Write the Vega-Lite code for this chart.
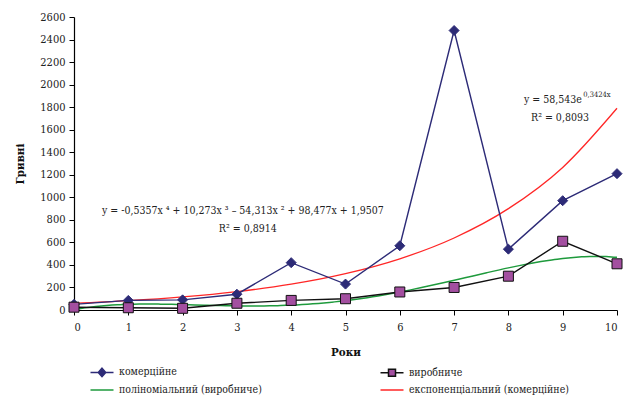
{
  "$schema": "https://vega.github.io/schema/vega-lite/v6.json",
  "width": 543,
  "height": 293,
  "autosize": "none",
  "padding": {"left": 74, "top": 17, "right": 9, "bottom": 86},
  "background": "white",
  "config": {
    "view": {"stroke": null},
    "font": "DejaVu Serif Condensed, DejaVu Serif",
    "axis": {"labelFont": "DejaVu Serif Condensed, DejaVu Serif", "titleFont": "DejaVu Serif Condensed, DejaVu Serif", "labelFontSize": 11, "titleFontSize": 11.5, "labelColor": "#222", "titleColor": "#111", "domainColor": "#000", "tickColor": "#000", "grid": false, "tickSize": 5, "domainWidth": 1.2, "labelOverlap": false}
  },
  "datasets": {
    "main": [
      {"x": 0, "value": 50, "series": "комерційне"},
      {"x": 1, "value": 85, "series": "комерційне"},
      {"x": 2, "value": 90, "series": "комерційне"},
      {"x": 3, "value": 140, "series": "комерційне"},
      {"x": 4, "value": 420, "series": "комерційне"},
      {"x": 5, "value": 230, "series": "комерційне"},
      {"x": 6, "value": 570, "series": "комерційне"},
      {"x": 7, "value": 2480, "series": "комерційне"},
      {"x": 8, "value": 540, "series": "комерційне"},
      {"x": 9, "value": 970, "series": "комерційне"},
      {"x": 10, "value": 1210, "series": "комерційне"},
      {"x": 0, "value": 25, "series": "виробниче"},
      {"x": 1, "value": 20, "series": "виробниче"},
      {"x": 2, "value": 15, "series": "виробниче"},
      {"x": 3, "value": 60, "series": "виробниче"},
      {"x": 4, "value": 85, "series": "виробниче"},
      {"x": 5, "value": 100, "series": "виробниче"},
      {"x": 6, "value": 160, "series": "виробниче"},
      {"x": 7, "value": 200, "series": "виробниче"},
      {"x": 8, "value": 300, "series": "виробниче"},
      {"x": 9, "value": 610, "series": "виробниче"},
      {"x": 10, "value": 410, "series": "виробниче"}
    ],
    "expTrend": [
      {"x": 0, "value": 58.5},
      {"x": 1, "value": 82.4},
      {"x": 2, "value": 115.9},
      {"x": 3, "value": 163},
      {"x": 4, "value": 229.4},
      {"x": 5, "value": 322.8},
      {"x": 6, "value": 454.2},
      {"x": 7, "value": 639.1},
      {"x": 8, "value": 899.2},
      {"x": 9, "value": 1265},
      {"x": 10, "value": 1790}
    ],
    "notes": [
      {"x": 3.11, "value": 878, "t": "y = -0,5357x ⁴ + 10,273x ³ – 54,313x ² + 98,477x + 1,9507"},
      {"x": 3.2, "value": 719, "t": "R² = 0,8914"},
      {"x": 8.82, "value": 1863, "t": "y = 58,543e"},
      {"x": 8.95, "value": 1704, "t": "R² = 0,8093"}
    ],
    "sups": [
      {"x": 9.63, "value": 1908, "t": "0,3424x"}
    ]
  },
  "encoding": {
    "x": {"field": "x", "type": "quantitative", "title": "Роки",
      "scale": {"domain": [0, 10], "nice": false},
      "axis": {"values": [0,1,2,3,4,5,6,7,8,9,10], "titleFontWeight": "bold", "titlePadding": 14, "labelPadding": 6}},
    "y": {"field": "value", "type": "quantitative", "title": "Гривні",
      "scale": {"domain": [0, 2600], "nice": false},
      "axis": {"values": [0,200,400,600,800,1000,1200,1400,1600,1800,2000,2200,2400,2600], "format": "d", "labelOverlap": false, "titleFontWeight": "bold", "titlePadding": 14, "labelPadding": 4}}
  },
  "layer": [
    {
      "data": {"name": "main"},
      "transform": [{"filter": "datum.series === 'виробниче'"}, {"regression": "value", "on": "x", "method": "poly", "order": 4, "extent": [0, 10]}],
      "mark": {"type": "line", "strokeWidth": 1.5, "interpolate": "monotone"},
      "encoding": {
        "stroke": {"datum": "поліноміальний (виробниче)"}
      }
    },
    {
      "data": {"name": "expTrend"},
      "mark": {"type": "line", "strokeWidth": 1.3, "interpolate": "monotone"},
      "encoding": {
        "stroke": {"datum": "експоненціальний (комерційне)"}
      }
    },
    {
      "data": {"name": "main"},
      "mark": {"type": "line", "strokeWidth": 1.4},
      "encoding": {
        "stroke": {"field": "series", "type": "nominal",
          "scale": {"domain": ["комерційне", "виробниче", "поліноміальний (виробниче)", "експоненціальний (комерційне)"], "range": ["#2D2B77", "#111111", "#1E9A3C", "#FF2626"]},
          "legend": {
            "title": null, "orient": "none", "direction": "horizontal", "legendX": 22, "legendY": 349, "columns": 2, "columnPadding": 115, "rowPadding": 4, "padding": 0,
            "labelFont": "DejaVu Serif Condensed, DejaVu Serif", "labelFontSize": 10.5, "labelColor": "#222", "labelOffset": 11,
            "symbolSize": 100, "symbolStrokeWidth": 1.5,
            "encode": {"symbols": {"update": {
              "shape": {"signal": "datum.value === 'комерційне' ? 'M-2.3,0H2.3M0,-0.85L0.75,0L0,0.85L-0.75,0Z' : datum.value === 'виробниче' ? 'M-2.3,0H-0.7M0.7,0H2.3M-0.7,-0.7H0.7V0.7H-0.7Z' : 'M-2.3,0H2.3'"},
              "fill": {"signal": "datum.value === 'комерційне' ? '#2D2B77' : datum.value === 'виробниче' ? '#A34FA0' : 'transparent'"},
              "fillOpacity": {"value": 1}
            }}}
          }}
      }
    },
    {
      "data": {"name": "main"},
      "mark": {"type": "point", "filled": true, "opacity": 1},
      "encoding": {
        "shape": {"field": "series", "type": "nominal", "scale": {"domain": ["комерційне", "виробниче"], "range": ["diamond", "square"]}, "legend": null},
        "fill": {"field": "series", "type": "nominal", "scale": {"domain": ["комерційне", "виробниче"], "range": ["#2D2B77", "#A34FA0"]}, "legend": null},
        "size": {"field": "series", "type": "nominal", "scale": {"domain": ["комерційне", "виробниче"], "range": [100, 100]}, "legend": null},
        "stroke": {"field": "series", "type": "nominal"},
        "strokeWidth": {"value": 1}
      }
    },
    {
      "data": {"name": "notes"},
      "mark": {"type": "text", "fontSize": 10.5, "color": "#222"},
      "encoding": {
        "text": {"field": "t"}
      }
    },
    {
      "data": {"name": "sups"},
      "mark": {"type": "text", "fontSize": 7.5, "color": "#222"},
      "encoding": {
        "text": {"field": "t"}
      }
    }
  ]
}
